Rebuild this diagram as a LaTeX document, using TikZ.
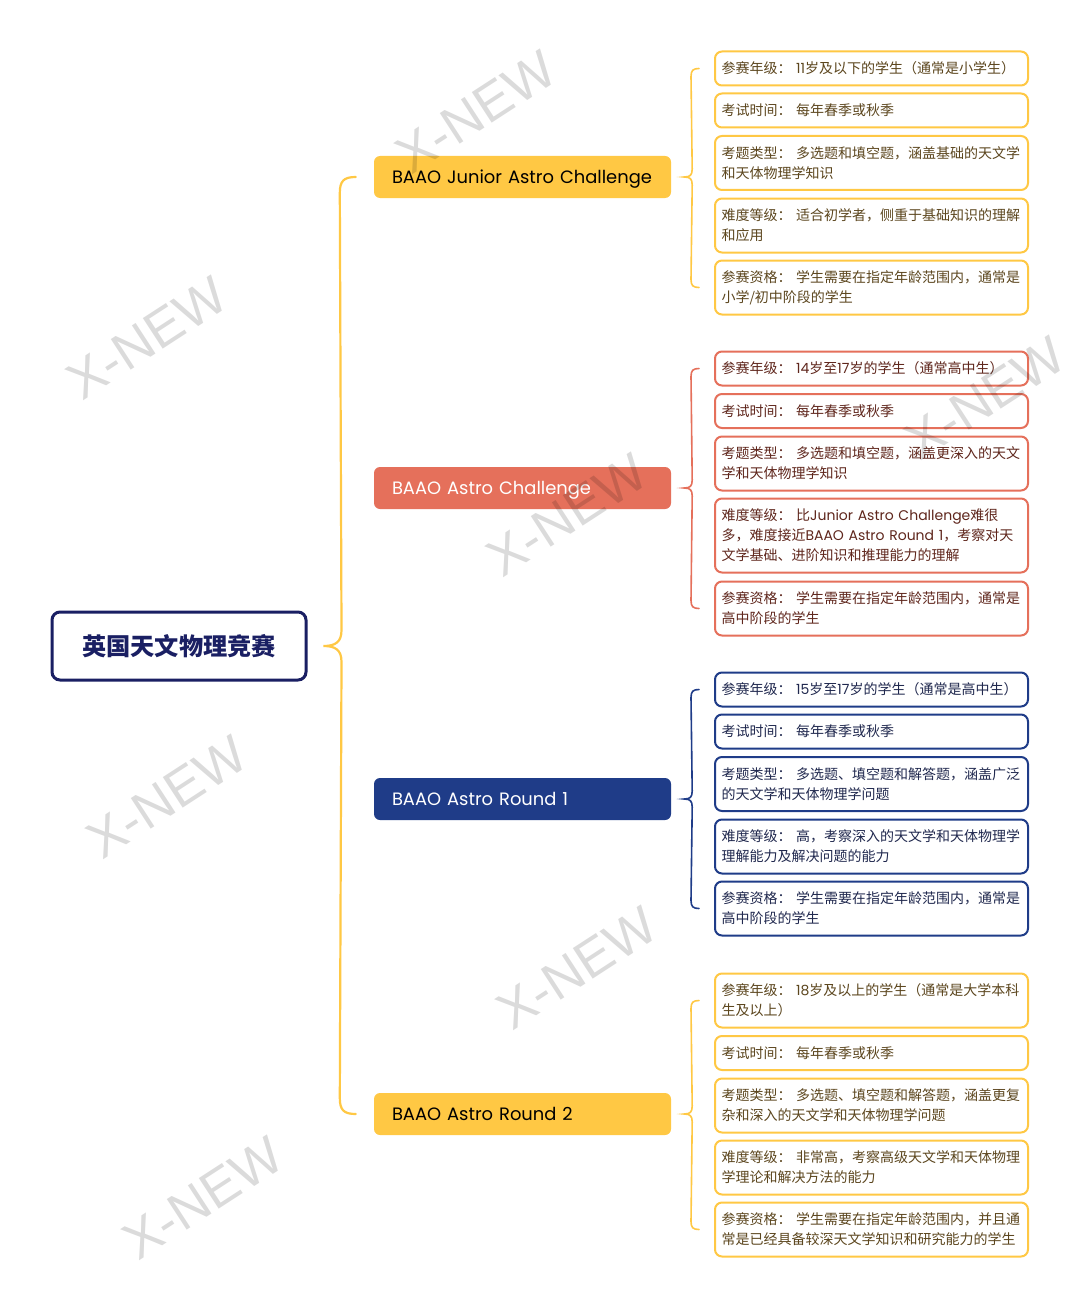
\documentclass[tikz,border=0pt]{standalone}
\usepackage{fontspec}
\setmainfont{Noto Sans CJK SC}
\newfontfamily\lat{Poppins}
\newfontfamily\wmfont{Liberation Sans}
\usetikzlibrary{calc}
\definecolor{ylw}{RGB}{255,200,68}
\definecolor{rd}{RGB}{229,112,91}
\definecolor{nv}{RGB}{31,60,136}
\definecolor{rootc}{RGB}{26,31,99}
\definecolor{ytx}{RGB}{92,70,30}
\definecolor{rtx}{RGB}{95,38,28}
\definecolor{ntx}{RGB}{32,40,78}
\tikzset{
  leaf/.style={draw, line width=2pt, rounded corners=7pt, fill=white,
    text width=300pt, inner xsep=6.5pt, inner ysep=0pt, align=left,
    font=\fontsize{14}{20}\selectfont},
  one/.style={minimum height=34pt},
  two/.style={minimum height=54pt},
  three/.style={minimum height=74pt},
  branch/.style={rounded corners=6pt, text width=261pt, inner xsep=18pt,
    align=left, minimum height=42pt, text height=12.8pt, text depth=0pt,
    font=\lat\fontsize{17.9}{20}\selectfont},
  brc/.style={line width=2.2pt, line cap=round},
  wm/.style={rotate=33, text=black, text opacity=0.14, font=\wmfont\fontsize{53}{60}\selectfont}
}
\begin{document}
\begin{tikzpicture}[x=1pt,y=-1pt]
\useasboundingbox[fill=white] (0,0) rectangle (1080,1308);

% root
\node[draw=rootc, line width=3pt, rounded corners=8pt, minimum width=254pt,
  minimum height=68pt, text=rootc, font=\fontsize{24.2}{28}\selectfont\bfseries]
  (root) at (179,646) {英国天文物理竞赛};

% branches
\node[branch, fill=ylw, text=black] (b1) at (522.5,177) {BAAO Junior Astro Challenge};
\node[branch, fill=rd, text=white] (b2) at (522.5,488) {BAAO Astro Challenge};
\node[branch, fill=nv, text=white] (b3) at (522.5,799) {BAAO Astro Round 1};
\node[branch, fill=ylw, text=black] (b4) at (522.5,1114) {BAAO Astro Round 2};

% group 1
\begin{scope}[every node/.append style={draw=ylw, text=ytx}]
\node[leaf, one] (g1a) at (871.5,68.5) {参赛年级： {\lat 11}岁及以下的学生（通常是小学生）};
\node[leaf, one] (g1b) at (871.5,110.5) {考试时间： 每年春季或秋季};
\node[leaf, two] (g1c) at (871.5,163) {考题类型： 多选题和填空题，涵盖基础的天文学\\和天体物理学知识};
\node[leaf, two] (g1d) at (871.5,225.5) {难度等级： 适合初学者，侧重于基础知识的理解\\和应用};
\node[leaf, two] (g1e) at (871.5,287.5) {参赛资格： 学生需要在指定年龄范围内，通常是\\小学/初中阶段的学生};
\end{scope}

% group 2
\begin{scope}[every node/.append style={draw=rd, text=rtx}]
\node[leaf, one] (g2a) at (871.5,368.5) {参赛年级： {\lat 14}岁至{\lat 17}岁的学生（通常高中生）};
\node[leaf, one] (g2b) at (871.5,411) {考试时间： 每年春季或秋季};
\node[leaf, two] (g2c) at (871.5,463.5) {考题类型： 多选题和填空题，涵盖更深入的天文\\学和天体物理学知识};
\node[leaf, three] (g2d) at (871.5,535.5) {难度等级： 比{\lat Junior Astro Challenge}难很\\多，难度接近{\lat BAAO Astro Round 1}，考察对天\\文学基础、进阶知识和推理能力的理解};
\node[leaf, two] (g2e) at (871.5,608.5) {参赛资格： 学生需要在指定年龄范围内，通常是\\高中阶段的学生};
\end{scope}

% group 3
\begin{scope}[every node/.append style={draw=nv, text=ntx}]
\node[leaf, one] (g3a) at (871.5,689.5) {参赛年级： {\lat 15}岁至{\lat 17}岁的学生（通常是高中生）};
\node[leaf, one] (g3b) at (871.5,731.5) {考试时间： 每年春季或秋季};
\node[leaf, two] (g3c) at (871.5,784) {考题类型： 多选题、填空题和解答题，涵盖广泛\\的天文学和天体物理学问题};
\node[leaf, two] (g3d) at (871.5,846.5) {难度等级： 高，考察深入的天文学和天体物理学\\理解能力及解决问题的能力};
\node[leaf, two] (g3e) at (871.5,908.5) {参赛资格： 学生需要在指定年龄范围内，通常是\\高中阶段的学生};
\end{scope}

% group 4
\begin{scope}[every node/.append style={draw=ylw, text=ytx}]
\node[leaf, two] (g4a) at (871.5,1000.5) {参赛年级： {\lat 18}岁及以上的学生（通常是大学本科\\生及以上）};
\node[leaf, one] (g4b) at (871.5,1053) {考试时间： 每年春季或秋季};
\node[leaf, two] (g4c) at (871.5,1105.5) {考题类型： 多选题、填空题和解答题，涵盖更复\\杂和深入的天文学和天体物理学问题};
\node[leaf, two] (g4d) at (871.5,1167.5) {难度等级： 非常高，考察高级天文学和天体物理\\学理论和解决方法的能力};
\node[leaf, two] (g4e) at (871.5,1229.5) {参赛资格： 学生需要在指定年龄范围内，并且通\\常是已经具备较深天文学知识和研究能力的学生};
\end{scope}

% main brace
\coordinate (mt) at ($(b1.west)+(-18,0)$);
\coordinate (mb) at ($(b4.west)+(-18,0)$);
\coordinate (mtip) at ($(root.east)+(16,0)$);
\draw[brc, ylw] (mt) .. controls +(-12,0) and +(0,-12) .. ($(mt)+(-16,16)$)
  -- ($(mtip)+(18,-16)$) .. controls +(0,12) and +(12,0) .. (mtip)
  .. controls +(12,0) and +(0,-12) .. ($(mtip)+(18,16)$)
  -- ($(mb)+(-16,-16)$) .. controls +(0,12) and +(-12,0) .. (mb);

% sub braces
\foreach \g/\b/\c in {1/1/ylw, 2/2/rd, 3/3/nv, 4/4/ylw}{
  \coordinate (st) at ($(g\g a.west)+(-15,0)$);
  \coordinate (sb) at ($(g\g e.west)+(-15,0)$);
  \coordinate (stip) at ($(b\b.east)+(13,0)$);
  \draw[brc, line width=1.6pt, \c] (st) .. controls +(-6,0) and +(0,-6) .. ($(st)+(-8,8)$)
    -- ($(stip)+(8,-8)$) .. controls +(0,6) and +(6,0) .. (stip)
    .. controls +(6,0) and +(0,-6) .. ($(stip)+(8,8)$)
    -- ($(sb)+(-8,-8)$) .. controls +(0,6) and +(-6,0) .. (sb);
}

% watermarks
\node[wm] (w1) at (476,112) {X-NEW};
\node[wm] (w2) at (147,338) {X-NEW};
\node[wm] (w3) at (567,515) {X-NEW};
\node[wm] (w4) at (985,398) {X-NEW};
\node[wm] (w5) at (167,797) {X-NEW};
\node[wm] (w6) at (577,968) {X-NEW};
\node[wm] (w7) at (203,1198) {X-NEW};
\end{tikzpicture}
\end{document}
